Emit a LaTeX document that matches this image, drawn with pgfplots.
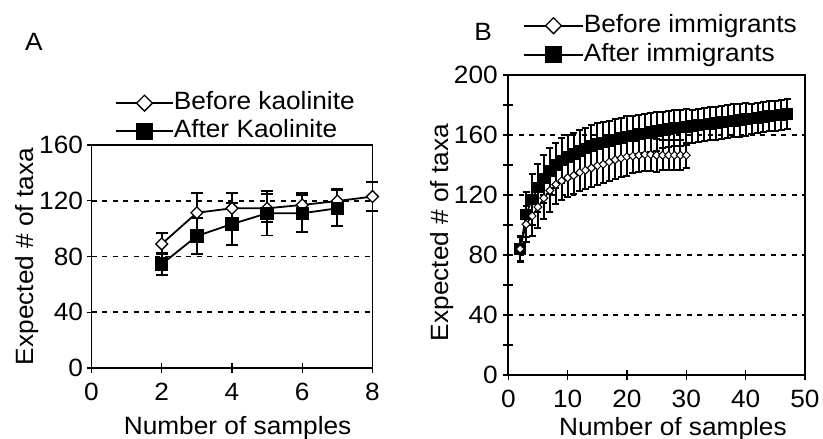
\documentclass[border=0pt]{standalone}
\usepackage{fontspec}
\setmainfont{Liberation Sans}[FakeStretch=1.05]
\usepackage{pgfplots}
\usepackage{pgfplotstable}
\pgfplotsset{compat=1.18}

\pgfplotstableread{
x y e
2 89 7.6
3 111.4 14.4
4 114.6 11.2
5 114.6 10
6 117 8.5
7 119.8 8.4
8 123 10.5
}\beforeA
\pgfplotstableread{
x y e
2 74.5 8
3 94.7 13.1
4 103.3 15
5 111 16
6 111 13.3
7 114.6 12.7
}\afterA

\pgfplotstableread{
x y e
2 84 8
3 100.5 12
4 106 13
5 112 14
6 118 14
7 123 14
8 127 13
9 129.5 12.5
10 131.5 12.5
11 133 12.5
12 135 12.5
13 136.5 12.5
14 138 12.5
15 139.5 12.5
16 140.5 12.5
17 142 12.5
18 143.5 12.5
19 144.5 12.5
20 145.5 12.5
21 146 11
22 146.5 11
23 147 11
24 147 11
25 146.5 11
26 146.5 10
27 146.5 10
28 146.5 10
29 146.5 10
30 146.5 8.5
}\beforeB
\pgfplotstableread{
x y e
2 84 8.5
3 107 15
4 117 17
5 125 16
6 131 16
7 136 15.5
8 140 15
9 143 15
10 145.5 14.5
11 147.5 14
12 149.5 14
13 151 14
14 152.5 14
15 154 14
16 155 13.5
17 156 13.5
18 157 13.5
19 158 13.5
20 159 13.5
21 159.5 13
22 160.5 13
23 161 13
24 162 13
25 162.5 13
26 163.5 12
27 164 12
28 164.5 12
29 165 12
30 165.5 12
31 166 11
32 166.5 11
33 167 11
34 167.5 11
35 168 11
36 168.5 11
37 169 11
38 169.5 11
39 170 11
40 170.5 11
41 171 10
42 171.5 10
43 172 10
44 172.5 10
45 173 10
46 173.5 10
47 174 10
}\afterB

\newcommand\bigfont{\fontsize{25bp}{28bp}\selectfont}

\pgfplotsset{
  panel/.style={
    scale only axis, clip=false,
    axis line style={line width=1.7bp},
    tick align=center,
    xtick pos=left, ytick pos=left,
    major tick length=10bp, minor tick length=10bp,
    every tick/.style={black, line width=1.3bp},
    ymajorgrids,
    grid style={black, line width=1.8bp, dash pattern=on 5bp off 5.5bp},
    /pgf/number format/assume math mode=true,
    tick label style={font=\bigfont},
    label style={font=\bigfont},
    xticklabel style={yshift=-7bp},
    legend cell align=left,
    legend style={draw=none, fill=none, inner sep=0pt,
      font=\bigfont,
      nodes={inner sep=0pt, text height=18bp, text depth=5bp}},
  },
}

\begin{document}
\begin{tikzpicture}

\node[font=\bigfont] at (34bp,-41.5bp) {A};
\node[font=\bigfont] at (483bp,-32bp) {B};

% Panel A
\begin{axis}[panel,
  at={(91.5bp,-368bp)}, anchor=south west,
  width=281bp, height=223bp,
  xmin=0, xmax=8, ymin=0, ymax=160,
  xtick={0,2,...,8}, ytick={0,40,...,160},
  xlabel={Number of samples}, ylabel={Expected \# of taxa},
  xlabel style={at={(axis description cs:0.52,-0.296)}, anchor=base},
  ylabel style={at={(axis description cs:-0.208,0.5)}, anchor=base},
  legend style={at={(0.0836,1.24)}, anchor=north west, row sep=5bp,
    /tikz/every even column/.append style={column sep=7bp}},
  legend image code/.code={\draw[mark repeat=2, mark phase=2, #1] plot coordinates {(0bp,0bp) (28.5bp,0bp) (57bp,0bp)};},
]
\addlegendimage{black, line width=1.6bp, mark=square*, mark size=5.6bp, mark options={rotate=45, fill=white, solid, line width=1.3bp}}
\addlegendentry{Before kaolinite}
\addlegendimage{black, line width=1.6bp, mark=square*, mark size=7.6bp, mark options={fill=black, solid}}
\addlegendentry{After Kaolinite}
\addplot[black, line width=1.8bp, mark=square*, mark size=4.2bp,
  mark options={rotate=45, fill=white, solid, line width=1.3bp}, forget plot,
  error bars/.cd, y dir=both, y explicit,
  error bar style={line width=1.8bp, black},
  error mark options={line width=1.8bp, mark size=6bp, black, rotate=90}]
  table[x=x, y=y, y error=e] {\beforeA};
\addplot[black, line width=1.8bp, mark=square*, mark size=5.8bp,
  mark options={fill=black, solid}, forget plot,
  error bars/.cd, y dir=both, y explicit,
  error bar style={line width=1.8bp, black},
  error mark options={line width=1.8bp, mark size=6bp, black, rotate=90}]
  table[x=x, y=y, y error=e] {\afterA};
\end{axis}

% Panel B
\begin{axis}[panel,
  at={(508.3bp,-375bp)}, anchor=south west,
  width=296.7bp, height=300bp,
  xmin=0, xmax=50, ymin=0, ymax=200,
  xtick={0,10,...,50}, ytick={0,40,...,200},
  minor ytick={20,60,...,180},
  yticklabel style={xshift=-2bp},
  xlabel={Number of samples}, ylabel={Expected \# of taxa},
  xlabel style={at={(axis description cs:0.555,-0.2)}, anchor=base},
  ylabel style={at={(axis description cs:-0.2,0.475)}, anchor=base},
  legend style={at={(0.0495,1.2033)}, anchor=north west, row sep=6bp,
    /tikz/every even column/.append style={column sep=4.5bp}},
  legend image code/.code={\draw[mark repeat=2, mark phase=2, #1] plot coordinates {(0bp,0bp) (29.5bp,0bp) (59bp,0bp)};},
]
\addlegendimage{black, line width=1.6bp, mark=square*, mark size=5.6bp, mark options={rotate=45, fill=white, solid, line width=1.3bp}}
\addlegendentry{Before immigrants}
\addlegendimage{black, line width=1.6bp, mark=square*, mark size=7.8bp, mark options={fill=black, solid}}
\addlegendentry{After immigrants}
\addplot[black, line width=1.6bp, mark=square*, mark size=5bp,
  mark options={fill=black, solid}, forget plot,
  error bars/.cd, y dir=both, y explicit,
  error bar style={line width=2bp, black},
  error mark options={line width=2bp, mark size=3.5bp, black, rotate=90}]
  table[x=x, y=y, y error=e] {\afterB};
\addplot[black, line width=1.4bp, mark=square*, mark size=2.8bp,
  mark options={rotate=45, fill=white, solid, line width=1bp}, forget plot,
  error bars/.cd, y dir=both, y explicit,
  error bar style={line width=2bp, black},
  error mark options={line width=2bp, mark size=3.5bp, black, rotate=90}]
  table[x=x, y=y, y error=e] {\beforeB};
\end{axis}

\pgfresetboundingbox
\useasboundingbox (0,0) rectangle (823bp,-439bp);
\end{tikzpicture}
\end{document}
